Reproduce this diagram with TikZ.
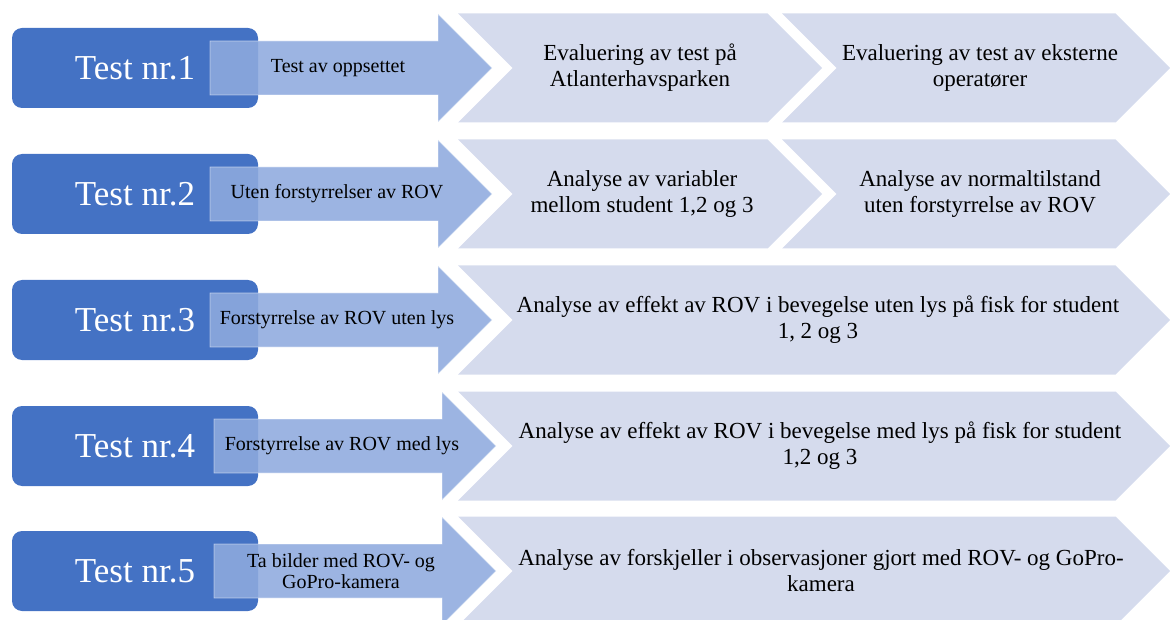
\documentclass[tikz,border=0pt]{standalone}
\usepackage{fontspec}
\setmainfont{Liberation Serif}
\newfontfamily\tnrfont{Liberation Serif}
\definecolor{boxblue}{HTML}{4472C4}
\definecolor{arrowblue}{HTML}{8EAADE}
\definecolor{chevfill}{HTML}{D5DBED}
\newcommand\myarrowshape[2]{%
  \path[arrowshape] ({#1},{#2-27}) -- ({#1+228},{#2-27}) -- ({#1+228},{#2-54}) -- ({#1+282},{#2}) -- ({#1+228},{#2+54}) -- ({#1+228},{#2+27}) -- ({#1},{#2+27}) -- cycle;}
\newcommand\mychevshape[3]{% left x, right tip x, centre y
  \path[chevshape] ({#1},{#3-54.5}) -- ({#2-54.5},{#3-54.5}) -- ({#2},{#3}) -- ({#2-54.5},{#3+54.5}) -- ({#1},{#3+54.5}) -- ({#1+54.5},{#3}) -- cycle;}
\begin{document}
\begin{tikzpicture}[x=1pt,y=-1pt,
  testbox/.style={fill=boxblue, rounded corners=10pt, minimum width=246pt, minimum height=80pt, inner sep=0pt, text=white, font=\tnrfont\fontsize{35}{40}\selectfont},
  arrowshape/.style={fill=arrowblue, fill opacity=0.88, draw=white, draw opacity=0.5, line width=0.8pt},
  chevshape/.style={fill=chevfill},
  arrowtext/.style={font=\tnrfont\fontsize{20}{21}\selectfont, align=center, inner sep=0pt},
  chevtext/.style={font=\tnrfont\fontsize{23}{26}\selectfont, align=center, inner sep=0pt}]
\useasboundingbox (0,0) rectangle (1170,620);
% chevrons
\mychevshape{458}{822}{68}
\mychevshape{782}{1170}{68}
\mychevshape{458}{822}{194}
\mychevshape{782}{1170}{194}
\mychevshape{458}{1170}{320}
\mychevshape{458}{1170}{446}
\mychevshape{458}{1170}{571}
% test boxes
\node[testbox] (t1) at (135,68) {Test nr.1};
\node[testbox] (t2) at (135,194) {Test nr.2};
\node[testbox] (t3) at (135,320) {Test nr.3};
\node[testbox] (t4) at (135,446) {Test nr.4};
\node[testbox] (t5) at (135,571) {Test nr.5};
% arrows
\myarrowshape{210}{68}
\myarrowshape{210}{194}
\myarrowshape{210}{320}
\myarrowshape{214}{446}
\myarrowshape{214}{571}
\node[arrowtext] (a1) at (338,68) {\tnrfont Test av oppsettet};
\node[arrowtext] (a2) at (337,194) {\tnrfont Uten forstyrrelser av ROV};
\node[arrowtext] (a3) at (337,320) {\tnrfont Forstyrrelse av ROV uten lys};
\node[arrowtext] (a4) at (342,446) {\tnrfont Forstyrrelse av ROV med lys};
\node[arrowtext] (a5) at (341,571) {\tnrfont Ta bilder med ROV- og\\\tnrfont GoPro-kamera};
% chevron texts
\node[chevtext] (c1a) at (640,68) {\tnrfont Evaluering av test på\\\tnrfont Atlanterhavsparken};
\node[chevtext] (c1b) at (980,68) {\tnrfont Evaluering av test av eksterne\\\tnrfont operatører};
\node[chevtext] (c2a) at (642,194) {\tnrfont Analyse av variabler\\\tnrfont mellom student 1,2 og 3};
\node[chevtext] (c2b) at (980,194) {\tnrfont Analyse av normaltilstand\\\tnrfont uten forstyrrelse av ROV};
\node[chevtext] (c3) at (818,320) {\tnrfont Analyse av effekt av ROV i bevegelse uten lys på fisk for student\\\tnrfont 1, 2 og 3};
\node[chevtext] (c4) at (820,446) {\tnrfont Analyse av effekt av ROV i bevegelse med lys på fisk for student\\\tnrfont 1,2 og 3};
\node[chevtext] (c5) at (821,571) {\tnrfont Analyse av forskjeller i observasjoner gjort med ROV- og GoPro-\\\tnrfont kamera};
\end{tikzpicture}
\end{document}
